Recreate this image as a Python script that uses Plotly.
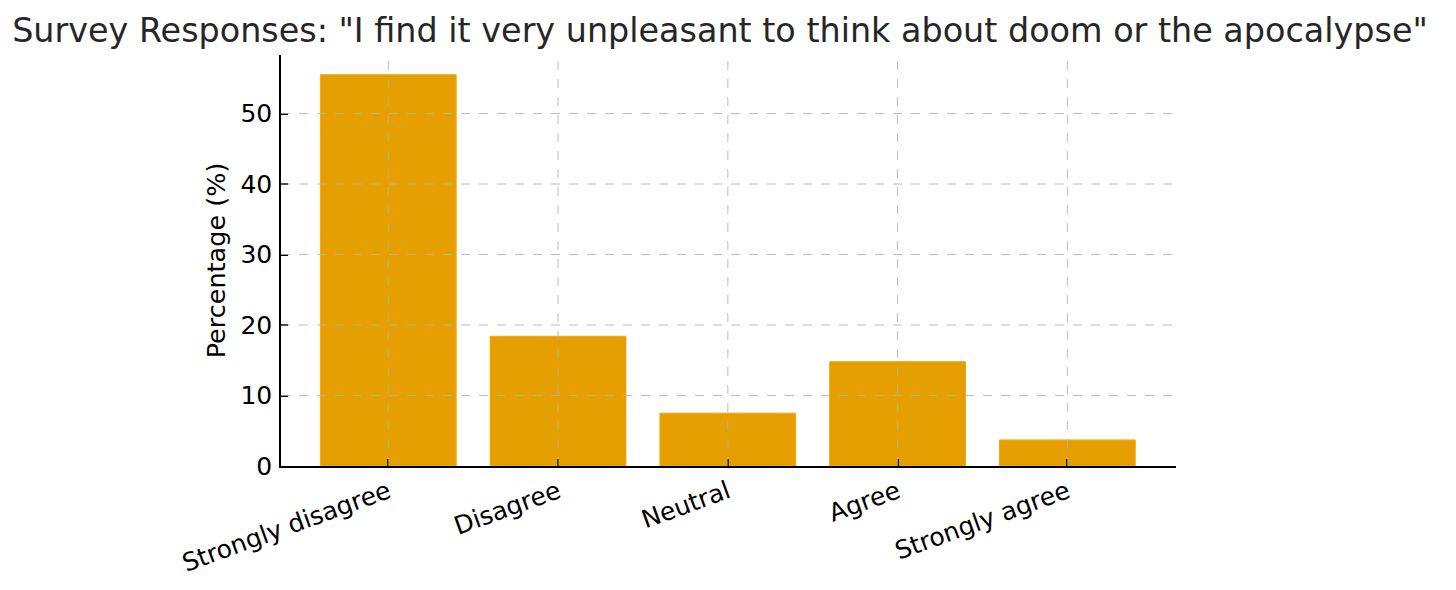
import plotly.graph_objects as go

# survey answers and share of respondents (%)
responses = ['Strongly disagree', 'Disagree', 'Neutral', 'Agree', 'Strongly agree']
percentages = [55.5, 18.4, 7.5, 14.8, 3.7]
y_ticks = [0, 10, 20, 30, 40, 50]

TITLE = 'Survey Responses: "I find it very unpleasant to think about doom or the apocalypse"'
FONT = 'DejaVu Sans'
GRID = 'rgba(176,176,176,0.85)'


def main():
    fig = go.Figure()
    fig.add_trace(go.Bar(
        x=responses,
        y=percentages,
        width=0.8,
        marker=dict(color='#E69F00', line=dict(color='#EDA81A', width=1)),
    ))

    # matplotlib draws the grid on top of the bars
    for t in y_ticks[1:]:
        fig.add_hline(y=t, line=dict(color=GRID, width=1, dash='dash'), layer='above')
    for r in responses:
        fig.add_vline(x=r, line=dict(color=GRID, width=1, dash='dash'), layer='above')

    # page body has an 8px margin, so the figure is a bit smaller than the window
    fig.update_layout(
        width=1448,
        height=582,
        template='plotly_white',
        plot_bgcolor='white',
        paper_bgcolor='white',
        showlegend=False,
        margin=dict(l=273, r=280, t=47, b=122),
        font=dict(family=FONT, size=25, color='#000000'),
        title=dict(
            text=TITLE,
            x=0.4917, xanchor='center',
            y=0.962, yanchor='middle',
            font=dict(family=FONT, size=33.4, color='#262626'),
        ),
    )
    fig.update_xaxes(
        range=[-0.632, 4.64],
        showgrid=False,
        showline=True, linecolor='black', linewidth=1.5,
        ticks='inside', ticklen=7, tickwidth=1.5, tickcolor='black',
        tickangle=-20,
        tickfont=dict(size=25),
        zeroline=False,
    )
    fig.update_yaxes(
        range=[0, 58.3],
        tickvals=y_ticks,
        showgrid=False,
        showline=True, linecolor='black', linewidth=1.5,
        ticks='inside', ticklen=7, tickwidth=1.5, tickcolor='black',
        ticklabelstandoff=2,
        tickfont=dict(size=25),
        title=dict(text='Percentage (%)', standoff=8, font=dict(size=25.5)),
        zeroline=False,
    )

    fig.write_html('out.html')


if __name__ == "__main__":
    main()
